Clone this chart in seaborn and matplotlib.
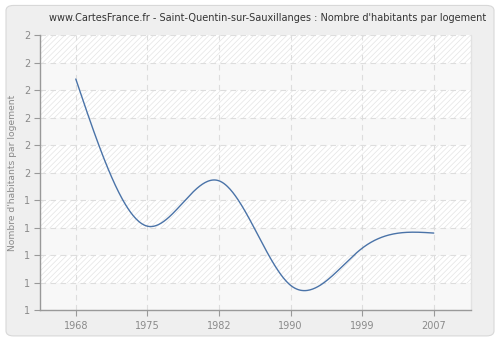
import numpy as np
import pandas as pd
import matplotlib
matplotlib.use("Agg")
import matplotlib.pyplot as plt
import seaborn as sns
from matplotlib.patches import Rectangle, FancyBboxPatch

# Census years and average number of inhabitants per dwelling
years = ["1968", "1975", "1982", "1990", "1999", "2007"]
values = [1.84, 1.305, 1.47, 1.09, 1.225, 1.28]
y_ticks = [1.0, 1.1, 1.2, 1.3, 1.4, 1.5, 1.6, 1.7, 1.8, 1.9, 2.0]
title = "www.CartesFrance.fr - Saint-Quentin-sur-Sauxillanges : Nombre d'habitants par logement"
y_label = "Nombre d'habitants par logement"


def natural_spline(x, y, n=400):
    x = np.asarray(x, float)
    y = np.asarray(y, float)
    k = len(x)
    h = np.diff(x)
    A = np.zeros((k, k))
    r = np.zeros(k)
    A[0, 0] = A[-1, -1] = 1.0
    for i in range(1, k - 1):
        A[i, i - 1] = h[i - 1]
        A[i, i] = 2 * (h[i - 1] + h[i])
        A[i, i + 1] = h[i]
        r[i] = 6 * ((y[i + 1] - y[i]) / h[i] - (y[i] - y[i - 1]) / h[i - 1])
    m = np.linalg.solve(A, r)
    xs = np.linspace(x[0], x[-1], n)
    idx = np.clip(np.searchsorted(x, xs) - 1, 0, k - 2)
    x0, x1 = x[idx], x[idx + 1]
    hh = x1 - x0
    t0, t1 = x1 - xs, xs - x0
    ys = (m[idx] * t0 ** 3 + m[idx + 1] * t1 ** 3) / (6 * hh) \
        + (y[idx] / hh - m[idx] * hh / 6) * t0 \
        + (y[idx + 1] / hh - m[idx + 1] * hh / 6) * t1
    return xs, ys


# census years sit at evenly spaced positions on the x axis
pos = np.arange(len(years))
xs, ys = natural_spline(pos, values)
curve = pd.DataFrame({"pos": xs, "value": ys})

sns.set_theme(style="white")
plt.rcParams["font.family"] = ["DejaVu Sans"]
plt.rcParams["hatch.linewidth"] = 0.5
plt.rcParams["hatch.color"] = "#e4e4e4"

fig = plt.figure(figsize=(5, 3.4), dpi=100)
fig.patch.set_facecolor("white")
frame = FancyBboxPatch((0.012, 0.012), 0.976, 0.972,
                       boxstyle="round,pad=0,rounding_size=0.015",
                       transform=fig.transFigure, facecolor="#efefef",
                       edgecolor="#d8d8d8", linewidth=0.8, zorder=-10)
fig.patches.append(frame)

ax = fig.add_axes([0.08, 0.088, 0.862, 0.809])
ax.set_zorder(5)
ax.set_facecolor("#f8f8f8")

# alternating horizontal bands: hatched / plain
for i in range(len(y_ticks) - 1):
    lo = y_ticks[i]
    hi = y_ticks[i + 1]
    if (len(y_ticks) - 2 - i) % 2 == 0:
        ax.add_patch(Rectangle((0, lo), 1, hi - lo,
                               transform=ax.get_yaxis_transform(),
                               facecolor="#ffffff", edgecolor="#e4e4e4",
                               hatch="//////", linewidth=0, zorder=0))

ax.plot([1, 1], [0, 1], transform=ax.transAxes, color="#e2e2e2",
        linewidth=1.0, zorder=1, clip_on=False)

sns.lineplot(data=curve, x="pos", y="value", ax=ax, color="#4a73a8",
             linewidth=1.0, zorder=3)

ax.set_xlim(-0.5, 5.52)
ax.set_ylim(1.0, 2.0)
ax.set_xticks(pos)
ax.set_xticklabels(years)
ax.set_yticks(y_ticks)
ax.set_yticklabels([str(int(np.floor(v + 0.5))) for v in y_ticks])

ax.grid(True, color="#dddddd", linestyle=(0, (5, 4)), linewidth=0.8)
ax.set_axisbelow(True)
for side in ["top", "right"]:
    ax.spines[side].set_visible(False)
for side in ["left", "bottom"]:
    ax.spines[side].set_color("#999999")
    ax.spines[side].set_linewidth(1.0)

ax.tick_params(axis="both", bottom=True, left=True, colors="#999999",
               labelcolor="#8a8a8a", labelsize=7, length=4, width=0.8,
               direction="out", pad=3)
ax.tick_params(axis="x", pad=4)
ax.set_xlabel("")
ax.set_ylabel(y_label, color="#8a8a8a", fontsize=6.6, labelpad=5)

fig.text(0.535, 0.948, title, ha="center", va="center", fontsize=7, color="#333333")

fig.savefig("out.png", dpi=100)
